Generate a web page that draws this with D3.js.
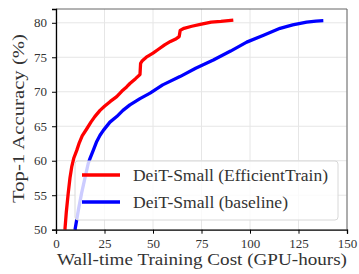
<!DOCTYPE html>
<html>
<head>
<meta charset="utf-8">
<script src="https://cdn.jsdelivr.net/npm/d3@7"></script>
<style>
  body { margin: 0; background: #fff; }
  text { font-family: "Liberation Serif", "DejaVu Serif", serif; fill: #333; }
</style>
</head>
<body>
<div id="chart"></div>
<script>
// values
var xTicks = [0, 25, 50, 75, 100, 125, 150];
var yTicks = [50, 55, 60, 65, 70, 75, 80];

var effX = [4.6, 5.3, 6.3, 7.2, 8.1, 9.2, 10.7, 12, 13.5, 15.8, 18, 20, 22.7, 25, 28, 31.3, 34, 36.4, 38.1, 41, 43.3, 43.6, 44.5, 47, 50, 53, 56, 59, 62, 63.5, 64, 66, 70, 75, 80, 85, 91.4];
var effY = [50, 52.5, 55.3, 57.5, 59.1, 60.4, 61.5, 62.6, 63.6, 64.6, 65.6, 66.4, 67.3, 67.9, 68.6, 69.3, 70.1, 70.7, 71.2, 71.9, 72.5, 74.1, 74.5, 75.1, 75.6, 76.2, 76.8, 77.3, 77.7, 78, 78.9, 79.2, 79.5, 79.8, 80.1, 80.2, 80.4];

var baseX = [9.8, 11.5, 13.2, 15, 16.6, 17.5, 19.2, 21, 22.7, 24.4, 27.8, 31.3, 34.5, 38.1, 43.3, 48.5, 55, 63.9, 72, 81.1, 90, 98.3, 107, 115.5, 122, 129.2, 134, 137.8];
var baseY = [50, 52.8, 55.3, 57.6, 59.6, 60.3, 61.5, 62.8, 63.7, 64.4, 65.6, 66.4, 67.3, 68.1, 69, 69.8, 71, 72.2, 73.4, 74.6, 75.9, 77.2, 78.2, 79.2, 79.7, 80.1, 80.25, 80.3];

var seriesNames = ["DeiT-Small (EfficientTrain)", "DeiT-Small (baseline)"];
var seriesColors = ["#ff0000", "#0000ff"];

var W = 359, H = 274;
var margin = {top: 9, right: 12, bottom: 44, left: 56};

var svg = d3.select("#chart").append("svg")
  .attr("width", W).attr("height", H);

var x = d3.scaleLinear().domain([0, 150]).range([margin.left, 347]);
var y = d3.scaleLinear().domain([50, 82]).range([229.7, margin.top]);

// grid
svg.append("g").selectAll("line").data(xTicks).enter().append("line")
  .attr("x1", d => x(d)).attr("x2", d => x(d))
  .attr("y1", y(82)).attr("y2", y(50))
  .attr("stroke", "#e6e6e6").attr("stroke-width", 1);
svg.append("g").selectAll("line").data(yTicks).enter().append("line")
  .attr("x1", x(0)).attr("x2", x(150))
  .attr("y1", d => y(d)).attr("y2", d => y(d))
  .attr("stroke", "#e6e6e6").attr("stroke-width", 1);

// curves
var line = d3.line().x(d => x(d[0])).y(d => y(d[1])).curve(d3.curveLinear);
var effData = d3.zip(effX, effY);
var baseData = d3.zip(baseX, baseY);

svg.append("path").datum(baseData).attr("d", line)
  .attr("fill", "none").attr("stroke", seriesColors[1])
  .attr("stroke-width", 3.3).attr("stroke-linejoin", "round");
svg.append("path").datum(effData).attr("d", line)
  .attr("fill", "none").attr("stroke", seriesColors[0])
  .attr("stroke-width", 3.3).attr("stroke-linejoin", "round");

// spines
svg.append("line").attr("x1", x(0)).attr("x2", x(150)).attr("y1", y(82)).attr("y2", y(82))
  .attr("stroke", "#666").attr("stroke-width", 1);
svg.append("line").attr("x1", x(150)).attr("x2", x(150)).attr("y1", y(82)).attr("y2", y(50))
  .attr("stroke", "#666").attr("stroke-width", 1);

var xAxis = svg.append("g").attr("transform", "translate(0," + y(50) + ")")
  .call(d3.axisBottom(x).tickValues(xTicks).tickSize(4).tickPadding(5));
var yAxis = svg.append("g").attr("transform", "translate(" + x(0) + ",0)")
  .call(d3.axisLeft(y).tickValues(yTicks).tickSize(4).tickPadding(5));

[xAxis, yAxis].forEach(function(a) {
  a.select(".domain").attr("stroke", "#000").attr("stroke-width", 1.3);
  a.selectAll(".tick line").attr("stroke", "#000");
  a.selectAll(".tick text").style("font-family", "Liberation Serif, serif")
    .style("font-size", "13px").attr("fill", "#333");
});

// legend
var lg = svg.append("g");
lg.append("rect").attr("x", 75).attr("y", 161).attr("width", 263).attr("height", 59)
  .attr("rx", 3).attr("fill", "#fff").attr("fill-opacity", 0.8)
  .attr("stroke", "#d8d8d8");
var legendLen = [195, 155];
seriesNames.forEach(function(name, i) {
  var yy = 175 + i * 27;
  lg.append("line").attr("x1", 82).attr("x2", 120).attr("y1", yy).attr("y2", yy)
    .attr("stroke", seriesColors[i]).attr("stroke-width", 3.3);
  lg.append("text").attr("x", 133).attr("y", yy + 5.5)
    .attr("textLength", legendLen[i]).attr("lengthAdjust", "spacingAndGlyphs")
    .style("font-size", "16px").text(name);
});

// axis labels
svg.append("text").attr("x", 57).attr("y", 265)
  .attr("textLength", 290).attr("lengthAdjust", "spacingAndGlyphs")
  .style("font-size", "17px")
  .text("Wall-time Training Cost (GPU-hours)");
svg.append("text").attr("transform", "translate(24,203) rotate(-90)")
  .attr("textLength", 169).attr("lengthAdjust", "spacingAndGlyphs")
  .style("font-size", "17px")
  .text("Top-1 Accuracy (%)");
</script>
</body>
</html>
